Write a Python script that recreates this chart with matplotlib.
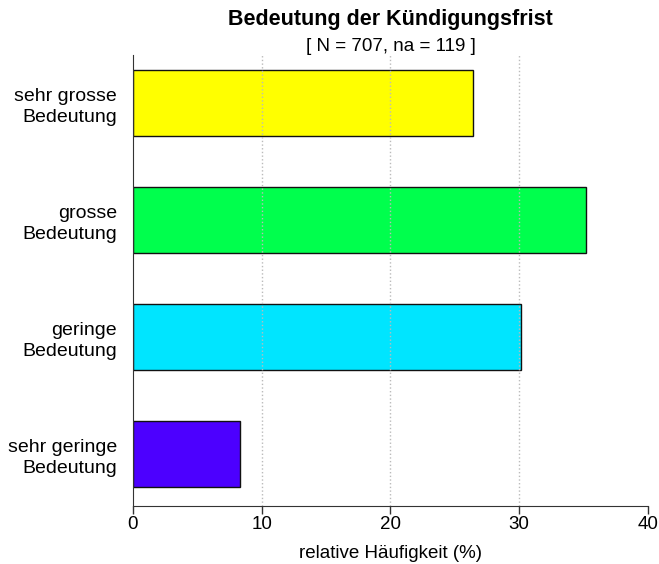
import matplotlib.pyplot as plt

categories = ['sehr geringe\nBedeutung', 'geringe\nBedeutung', 'grosse\nBedeutung', 'sehr grosse\nBedeutung']
values = [8.3, 30.1, 35.2, 26.4]
colors = ['#4C00FF', '#00E5FF', '#00FF4D', '#FFFF00']
xticks = [0, 10, 20, 30, 40]

plt.rcParams['font.family'] = ['Liberation Sans', 'DejaVu Sans']

fig = plt.figure(figsize=(6.59, 5.64), dpi=100)
ax = fig.add_axes([0.2018, 0.1028, 0.7815, 0.7997])

pos = list(range(len(categories)))
ax.barh(pos, values, height=0.57, color=colors, edgecolor='#111111', linewidth=1, zorder=2)

ax.set_xlim(0, 40)
ax.set_ylim(-0.445, 3.41)
ax.set_xticks(xticks)
ax.set_xticklabels([str(t) for t in xticks], fontsize=13.5)
ax.set_yticks(pos)
ax.set_yticklabels(categories, fontsize=14, linespacing=1.3)
ax.tick_params(axis='y', length=0, pad=11.5)
ax.tick_params(axis='x', length=6, width=1, pad=1.5, color='#333333')

for x in xticks[1:-1]:
    ax.axvline(x, color='#BBBBBB', linestyle=':', linewidth=1, zorder=3)

for s in ['top', 'right']:
    ax.spines[s].set_visible(False)
ax.spines['left'].set_color('#333333')
ax.spines['bottom'].set_color('#333333')

ax.set_xlabel('relative Häufigkeit (%)', fontsize=13.5, labelpad=8)
fig.text(0.593, 0.965, 'Bedeutung der Kündigungsfrist', ha='center', va='center',
         fontsize=15.5, fontweight='bold')
fig.text(0.593, 0.917, '[ N = 707, na = 119 ]', ha='center', va='center', fontsize=13.5)

fig.savefig('out.png', dpi=100)
